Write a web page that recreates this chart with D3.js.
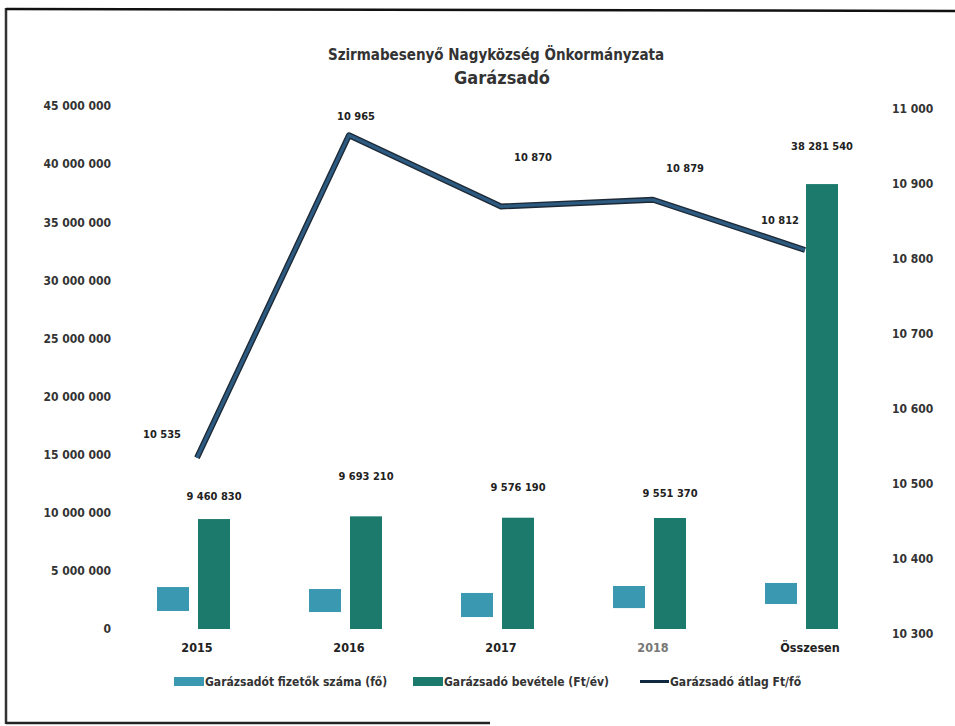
<!DOCTYPE html>
<html><head><meta charset="utf-8">
<script src="https://cdn.jsdelivr.net/npm/d3@7"></script>
<style>
body{margin:0;background:#fff;}
text{font-family:"DejaVu Sans Condensed","Open Sans",sans-serif;font-weight:bold;}
</style></head>
<body><svg id="c" width="955" height="726"></svg>
<script>
const categories = ["2015","2016","2017","2018","Összesen"];
const revenue = [9460830, 9693210, 9576190, 9551370, 38281540];
const average = [10535, 10965, 10870, 10879, 10812];
// payer-count boxes as they appear (floating), in left-axis units
const payerBoxLow  = [1550000, 1460000, 1030000, 1800000, 2150000];
const payerBoxHigh = [3610000, 3440000, 3100000, 3700000, 3960000];
const leftTicks = [0,5000000,10000000,15000000,20000000,25000000,30000000,35000000,40000000,45000000];
const rightTicks = [10300,10400,10500,10600,10700,10800,10900,11000];
const legendLabels = ["Garázsadót fizetők száma (fő)","Garázsadó bevétele (Ft/év)","Garázsadó átlag Ft/fő"];
// label offsets (layout)
const lineLabelOff = [[-35,-23],[7,-18],[32,-49],[32,-31],[-25,-29]];
const barLabelOff = [-22,-39,-30,-24,-37];

const colPayer = "#3a98b0", colRev = "#1b7a6c", colLine = "#2d5a80", colLineEdge = "#1d2a36";
const svg = d3.select("#c");
const fmt = v => d3.format(",")(v).replace(/,/g," ");

// frame
svg.append("line").attr("x1",6).attr("y1",8).attr("x2",6).attr("y2",724).attr("stroke","#333").attr("stroke-width",2.5);
svg.append("line").attr("x1",6).attr("y1",9).attr("x2",955).attr("y2",11).attr("stroke","#111").attr("stroke-width",2.5);
svg.append("line").attr("x1",6).attr("y1",723).attr("x2",490).attr("y2",723).attr("stroke","#222").attr("stroke-width",2.5);

const x = d3.scaleBand().domain(categories).range([121,881]);
const yL = d3.scaleLinear().domain([0,45000000]).range([629,106]);
const yR = d3.scaleLinear().domain([10300,11000]).range([634,109]);
const inner = d3.scaleBand().domain(["p","r"]).range([-40,33]).paddingInner(0.22);
const cx = c => x(c) + x.bandwidth()/2;

// title
svg.append("text").attr("x",496).attr("y",60).attr("text-anchor","middle").attr("font-size",15).attr("fill","#333").text("Szirmabesenyő Nagyközség Önkormányzata");
svg.append("text").attr("x",502).attr("y",84).attr("text-anchor","middle").attr("font-size",18).attr("fill","#333").text("Garázsadó");

// left axis
const gL = svg.append("g").attr("transform","translate(111,0)")
  .call(d3.axisLeft(yL).tickValues(leftTicks).tickFormat(fmt).tickSize(0).tickPadding(0));
gL.select(".domain").remove();
gL.selectAll("text").attr("font-size",12).attr("fill","#333").attr("font-family",null);

// right axis
const gR = svg.append("g").attr("transform","translate(892,0)")
  .call(d3.axisRight(yR).tickValues(rightTicks).tickFormat(fmt).tickSize(0).tickPadding(0));
gR.select(".domain").remove();
gR.selectAll("text").attr("font-size",12).attr("fill","#333").attr("font-family",null);

// category labels
svg.selectAll(".cat").data(categories).join("text")
  .attr("x",(d,i)=>cx(d)+(i===4?5:0)).attr("y",652).attr("text-anchor","middle")
  .attr("font-size",12.5).attr("fill",(d,i)=>i===3?"#777":"#222").text(d=>d);

// payer boxes
svg.selectAll(".pbox").data(categories).join("rect")
  .attr("x",d=>cx(d)+inner("p")).attr("width",inner.bandwidth())
  .attr("y",(d,i)=>yL(payerBoxHigh[i])).attr("height",(d,i)=>yL(payerBoxLow[i])-yL(payerBoxHigh[i]))
  .attr("fill",colPayer);

// revenue bars
svg.selectAll(".rbar").data(categories).join("rect")
  .attr("x",d=>cx(d)+inner("r")).attr("width",inner.bandwidth())
  .attr("y",(d,i)=>yL(revenue[i])).attr("height",(d,i)=>yL(0)-yL(revenue[i]))
  .attr("fill",colRev);

svg.selectAll(".rlab").data(categories).join("text")
  .attr("x",d=>cx(d)+inner("r")+inner.bandwidth()/2).attr("y",(d,i)=>yL(revenue[i])+barLabelOff[i])
  .attr("dominant-baseline","middle").attr("text-anchor","middle").attr("font-size",11).attr("fill","#222")
  .text((d,i)=>fmt(revenue[i]));

// line
const line = d3.line().x((d,i)=>cx(categories[i])).y(d=>yR(d));
svg.append("path").datum(average).attr("d",line).attr("fill","none").attr("stroke",colLineEdge).attr("stroke-width",6).attr("stroke-linejoin","round");
svg.append("path").datum(average).attr("d",line).attr("fill","none").attr("stroke",colLine).attr("stroke-width",3.2).attr("stroke-linejoin","round");

svg.selectAll(".llab").data(average).join("text")
  .attr("x",(d,i)=>cx(categories[i])+lineLabelOff[i][0]).attr("y",(d,i)=>yR(d)+lineLabelOff[i][1])
  .attr("dominant-baseline","middle").attr("text-anchor","middle").attr("font-size",11).attr("fill","#222")
  .text(d=>fmt(d));

// legend
const lg = svg.append("g");
const lx = [174,413,640];
lg.append("rect").attr("x",lx[0]).attr("y",677).attr("width",30).attr("height",9).attr("fill",colPayer);
lg.append("rect").attr("x",lx[1]).attr("y",677).attr("width",30).attr("height",9).attr("fill",colRev);
lg.append("line").attr("x1",lx[2]).attr("x2",lx[2]+29).attr("y1",681.5).attr("y2",681.5).attr("stroke","#0f2a40").attr("stroke-width",3);
legendLabels.forEach((t,i)=>{
  lg.append("text").attr("x",lx[i]+(i===2?30:31)).attr("y",682).attr("dominant-baseline","middle")
    .attr("font-size",12).attr("fill","#333").text(t);
});
</script></body></html>
